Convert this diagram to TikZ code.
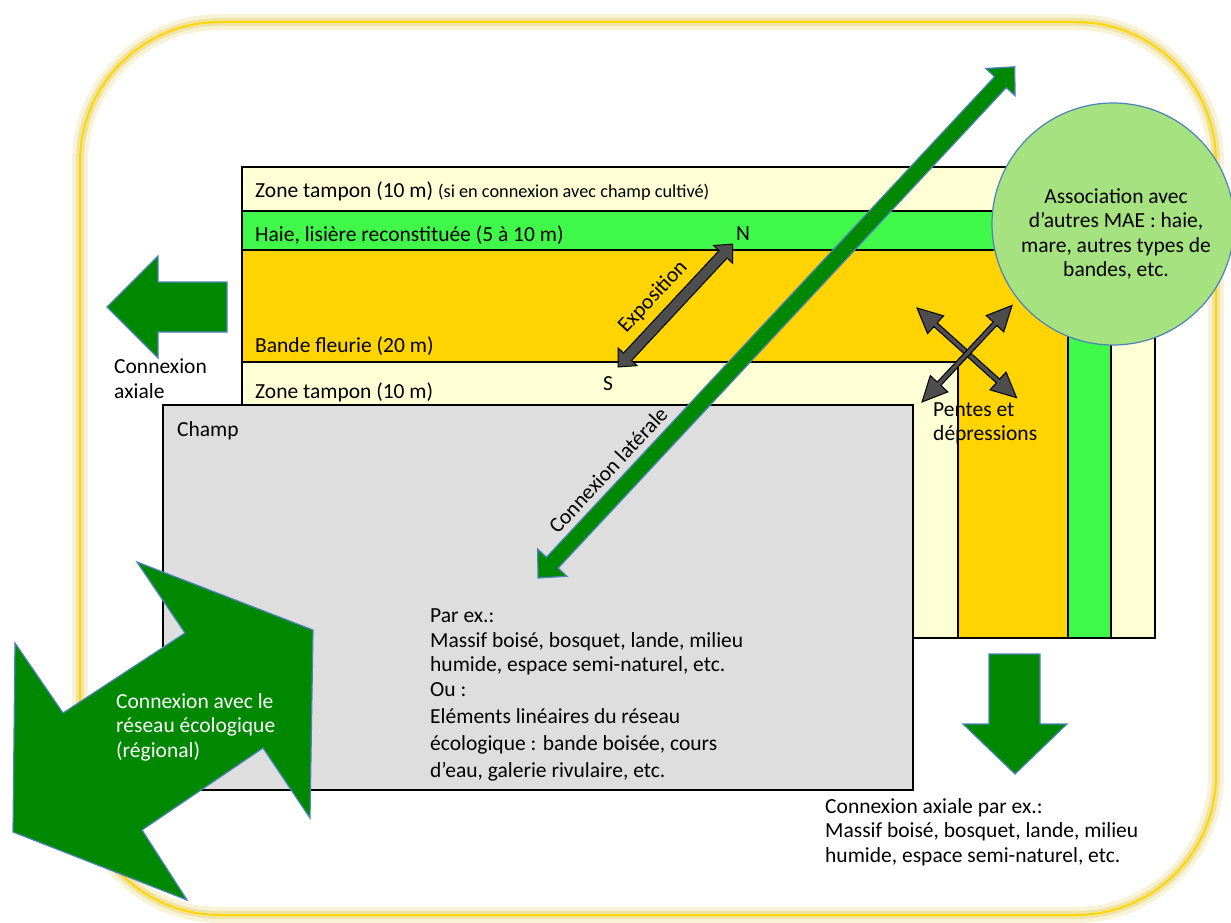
\documentclass[tikz,border=0pt]{standalone}
\usepackage{fontspec}
\setmainfont{Carlito}
\usetikzlibrary{positioning}

\definecolor{cream}{RGB}{255,255,214}
\definecolor{hedge}{RGB}{64,248,73}
\definecolor{flower}{RGB}{255,212,0}
\definecolor{field}{RGB}{222,222,222}
\definecolor{arrowgreen}{RGB}{0,137,0}
\definecolor{edgeblue}{RGB}{79,129,189}
\definecolor{bubble}{RGB}{166,227,128}
\definecolor{slate}{RGB}{77,77,77}
\definecolor{gold}{RGB}{255,215,0}
\definecolor{glow}{RGB}{232,212,120}

% double arrow along the local x axis: style, length, shaft half-width, head half-width, head length
\newcommand{\dblarrow}[5]{%
  \draw[#1] (0,0) -- (#5,#4) -- (#5,#3) -- ({#2-#5},#3) -- ({#2-#5},#4) -- (#2,0)
    -- ({#2-#5},-#4) -- ({#2-#5},-#3) -- (#5,-#3) -- (#5,-#4) -- cycle;}

\begin{document}
\begin{tikzpicture}[
    x=1pt, y=-1pt,
    stripline/.style={draw=black, line width=1.5},
    greenarrow/.style={fill=arrowgreen, draw=edgeblue, line width=1.2, line join=miter},
    slatearrow/.style={fill=slate, draw=black, line width=1, line join=miter},
    lbl/.style={font=\fontsize{21.5}{24.5}\selectfont, inner sep=0pt, anchor=base west},
    frame/.style={rounded corners=140pt},
]
\useasboundingbox (0,0) rectangle (1231,923);

% outer frame with glow
\draw[frame, glow, line width=16, opacity=0.3] (80,22) rectangle (1216,915);
\draw[frame, glow, line width=8, opacity=0.5] (80,22) rectangle (1216,915);
\draw[frame, gold, line width=2] (80,22) rectangle (1216,915);

% strips (nested L shapes) and field
\draw[stripline, fill=cream] (242,167) rectangle (1155,638);
\draw[stripline, fill=hedge] (242,211) rectangle (1111,638);
\draw[stripline, fill=flower] (242,250) rectangle (1068,638);
\draw[stripline, fill=cream] (242,362) rectangle (958,638);
\draw[stripline, fill=field] (163,405) rectangle (913,790);

% regional network arrow
\draw[greenarrow] (137,562) -- (313,630) -- (310,818) -- (263,748) -- (142,830) -- (187,900)
  -- (13,832) -- (15,643) -- (63,713) -- (185,633) -- cycle;

% axial connections
\draw[greenarrow] (107,307) -- (158,256) -- (158,282) -- (227,282) -- (227,332) -- (158,332) -- (158,358) -- cycle;
\draw[greenarrow] (989,654) -- (1040,654) -- (1040,724) -- (1067,724) -- (1015,774) -- (963,724) -- (989,724) -- cycle;

% lateral connection
\begin{scope}[shift={(538,578)}, rotate=47]
  \dblarrow{greenarrow}{699}{8}{20}{21}
\end{scope}

% exposition
\begin{scope}[shift={(618,367)}, rotate=47]
  \dblarrow{slatearrow}{168}{5.5}{13}{14}
\end{scope}

% slopes
\begin{scope}[shift={(917,308)}, rotate=-42]
  \dblarrow{slatearrow}{134}{2.5}{12}{25}
\end{scope}
\begin{scope}[shift={(922,402)}, rotate=47]
  \dblarrow{slatearrow}{132}{2.5}{12}{25}
\end{scope}

% other MAE
\node[circle, fill=bubble, draw=edgeblue, line width=1.2, minimum size=242, inner sep=0pt] (mae) at (1113,224) {};
\node[lbl, anchor=center, align=center] (maetext) at (1116,234)
  {Association avec\\d’autres MAE : haie,\\mare, autres types de\\bandes, etc.};

% labels (multi-line ones placed by their last baseline)
\node[lbl] (tampontop) at (255,197) {Zone tampon (10 m) {\fontsize{18.3}{20}\selectfont(si en connexion avec champ cultivé)}};
\node[lbl] (haie) at (255,241) {Haie, lisière reconstituée (5 à 10 m)};
\node[lbl] (bande) at (255,352) {Bande fleurie (20 m)};
\node[lbl] (tamponbot) at (255,398) {Zone tampon (10 m)};
\node[lbl] (champ) at (177,436) {Champ};
\node[lbl] (nord) at (736,240) {N};
\node[lbl] (sud) at (603,390) {S};
\node[lbl, anchor=center, rotate=47] (expo) at (653,297) {Exposition};
\node[lbl, anchor=center, rotate=47] (laterale) at (608,470) {Connexion latérale};
\node[lbl, align=left] (axiale) at (114,398) {Connexion\\axiale};
\node[lbl, align=left, font=\fontsize{21.5}{23.5}\selectfont] (pentes) at (933,440) {Pentes et\\dépressions};
\node[lbl, align=left] (parex) at (430,777)
  {Par ex.:\\Massif boisé, bosquet, lande, milieu\\humide, espace semi-naturel, etc.\\Ou :\\[2.5pt]Eléments linéaires du réseau\\[2.5pt]écologique : bande boisée, cours\\[2.5pt]d’eau, galerie rivulaire, etc.};
\node[lbl, align=left] (axialebas) at (825,862)
  {Connexion axiale par ex.:\\Massif boisé, bosquet, lande, milieu\\humide, espace semi-naturel, etc.};
\node[lbl, align=left, text=white] (reseau) at (116,757)
  {Connexion avec le\\réseau écologique\\(régional)};
\end{tikzpicture}
\end{document}
